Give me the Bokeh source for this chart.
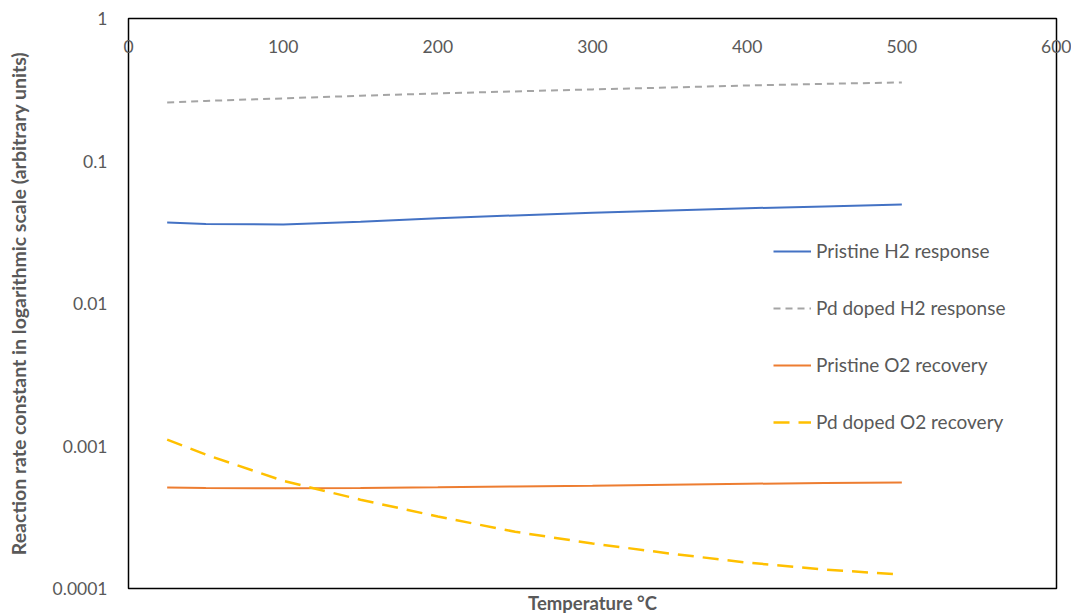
from bokeh.plotting import figure
from bokeh.models import Range1d, FixedTicker, CustomJSTickFormatter, Title, Legend, LegendItem, LinearAxis
from bokeh.embed import file_html
from bokeh.resources import INLINE

# Data
temp_h2 = [25, 50, 100, 150, 200, 250, 300, 350, 400, 450, 500]
pristine_h2 = [0.0370, 0.0362, 0.0358, 0.0375, 0.0397, 0.0415, 0.0433, 0.0450, 0.0466, 0.0480, 0.0495]
pd_h2 = [0.257, 0.264, 0.275, 0.287, 0.298, 0.308, 0.318, 0.328, 0.339, 0.348, 0.356]
pristine_o2 = [0.000512, 0.000508, 0.000505, 0.000508, 0.000513, 0.000520, 0.000527, 0.000535, 0.000543, 0.000550, 0.000555]
pd_o2 = [0.00111, 0.00087, 0.00057, 0.00042, 0.00032, 0.00025, 0.000207, 0.000176, 0.000152, 0.000136, 0.000125]

x_ticks = [0, 100, 200, 300, 400, 500, 600]
y_ticks = [0.0001, 0.001, 0.01, 0.1, 1]

FONT = "Lato"
GREY = "#595959"

p = figure(width=1071, height=614, y_axis_type="log", output_backend="svg",
           toolbar_location=None, x_axis_location=None,
           x_range=Range1d(0, 600), y_range=Range1d(0.0001, 1),
           min_border_left=128, min_border_right=15, min_border_top=18, min_border_bottom=0)
p.grid.visible = False
p.outline_line_color = "#000000"
p.outline_line_width = 1.5
p.background_fill_color = "white"
p.border_fill_color = "white"

# top x axis with labels inside the frame
xa = LinearAxis(ticker=FixedTicker(ticks=x_ticks))
xa.major_label_standoff = -34
xa.major_tick_out = 0
xa.major_tick_in = 0
xa.minor_tick_out = 0
xa.minor_tick_in = 0
xa.axis_line_color = None
xa.major_label_text_font = FONT
xa.major_label_text_font_size = "17.5px"
xa.major_label_text_color = GREY
p.add_layout(xa, "above")

ya = p.yaxis[0]
ya.ticker = FixedTicker(ticks=y_ticks)
ya.formatter = CustomJSTickFormatter(code="return tick.toString();")
ya.major_tick_out = 0
ya.major_tick_in = 0
ya.minor_tick_out = 0
ya.minor_tick_in = 0
ya.axis_line_color = None
ya.major_label_standoff = 21
ya.major_label_text_font = FONT
ya.major_label_text_font_size = "17.5px"
ya.major_label_text_color = GREY
ya.axis_label = "Reaction rate constant in logarithmic scale (arbitrary units)"
ya.axis_label_text_font = FONT
ya.axis_label_text_font_size = "19.5px"
ya.axis_label_text_font_style = "bold"
ya.axis_label_text_color = GREY
ya.axis_label_standoff = 20

r1 = p.line(temp_h2, pristine_h2, line_color="#4472C4", line_width=2)
r2 = p.line(temp_h2, pd_h2, line_color="#A5A5A5", line_width=2, line_dash="7 5")
r3 = p.line(temp_h2, pristine_o2, line_color="#ED7D31", line_width=2)
r4 = p.line(temp_h2, pd_o2, line_color="#FFC000", line_width=2.5, line_dash="16 9")

legend = Legend(items=[
    LegendItem(label="Pristine H2 response", renderers=[r1]),
    LegendItem(label="Pd doped H2 response", renderers=[r2]),
    LegendItem(label="Pristine O2 recovery", renderers=[r3]),
    LegendItem(label="Pd doped O2 recovery", renderers=[r4]),
], location=(645, 155))
legend.border_line_color = None
legend.background_fill_alpha = 0
legend.padding = 0
legend.margin = 0
legend.spacing = 34
legend.glyph_width = 38
legend.label_standoff = 5
legend.label_text_font = FONT
legend.label_text_font_size = "19px"
legend.label_text_color = GREY
p.add_layout(legend)

p.add_layout(Title(text="Temperature °C", align="center", text_font=FONT,
                   text_font_size="18.5px", text_font_style="bold", text_color=GREY,
                   offset=-12, standoff=2), "below")

open("out.html", "w").write(file_html(p, INLINE))
